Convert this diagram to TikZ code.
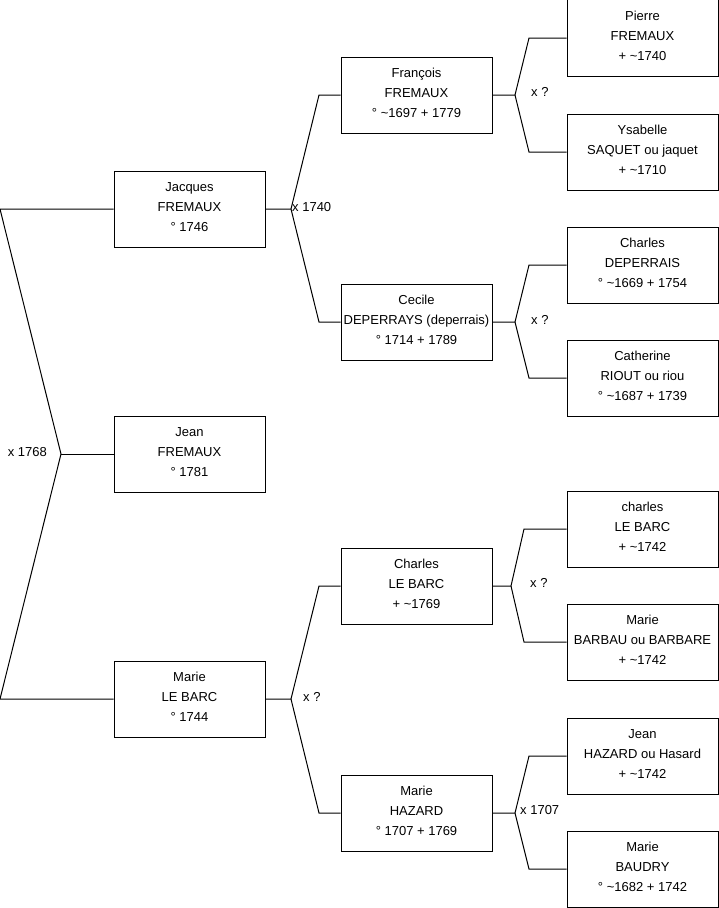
\documentclass[tikz,border=0pt]{standalone}
\usepackage{fontspec}
\setmainfont{Liberation Sans}
\newcommand{\ca}{\textasciitilde}

\begin{document}
\begin{tikzpicture}[x=1bp, y=-1bp,
    person/.style={draw, line width=1bp, minimum width=151bp, minimum height=76bp,
      inner sep=0pt, align=center, text depth=4bp, font=\fontsize{13bp}{20bp}\selectfont},
    link/.style={line width=1bp},
    union/.style={inner sep=0pt, font=\fontsize{13bp}{15bp}\selectfont}]
    \useasboundingbox (0,0) rectangle (719,908);

    % Children
    \node[person] (jacques) at (189.5,209) {Jacques\\FREMAUX\\° 1746};
    \node[person] (jean) at (189.5,454) {Jean\\FREMAUX\\° 1781};
    \node[person] (marie) at (189.5,699) {Marie\\LE BARC\\° 1744};

    % Parents
    \node[person] (francois) at (416.5,95) {François\\FREMAUX\\° \ca1697 + 1779};
    \node[person] (cecile) at (416.5,322) {Cecile\\DEPERRAYS (deperrais)\\° 1714 + 1789};
    \node[person] (charles) at (416.5,586) {Charles\\LE BARC\\+ \ca1769};
    \node[person] (mariehazard) at (416.5,813) {Marie\\HAZARD\\° 1707 + 1769};

    % Grandparents
    \node[person] (pierre) at (642.5,38) {Pierre\\FREMAUX\\+ \ca1740};
    \node[person] (ysabelle) at (642.5,152) {Ysabelle\\SAQUET ou jaquet\\+ \ca1710};
    \node[person] (charlesdep) at (642.5,265) {Charles\\DEPERRAIS\\° \ca1669 + 1754};
    \node[person] (catherine) at (642.5,378) {Catherine\\RIOUT ou riou\\° \ca1687 + 1739};
    \node[person] (charleslb) at (642.5,529) {charles\\LE BARC\\+ \ca1742};
    \node[person] (mariebarbau) at (642.5,642) {Marie\\BARBAU ou BARBARE\\+ \ca1742};
    \node[person] (jeanhazard) at (642.5,756) {Jean\\HAZARD ou Hasard\\+ \ca1742};
    \node[person] (mariebaudry) at (642.5,869) {Marie\\BAUDRY\\° \ca1682 + 1742};

    % Forks
    \coordinate (f0) at (61,454);
    \coordinate (f0a) at (0,209);
    \coordinate (f0b) at (0,699);
    \coordinate (f1) at (291,209);
    \coordinate (f1a) at (319,95);
    \coordinate (f1b) at (319,322);
    \coordinate (f2) at (291,699);
    \coordinate (f2a) at (319,586);
    \coordinate (f2b) at (319,813);
    \coordinate (f3) at (515,95);
    \coordinate (f3a) at (529,38);
    \coordinate (f3b) at (529,152);
    \coordinate (f4) at (515,322);
    \coordinate (f4a) at (529,265);
    \coordinate (f4b) at (529,378);
    \coordinate (f5) at (511,586);
    \coordinate (f5a) at (524,529);
    \coordinate (f5b) at (524,642);
    \coordinate (f6) at (515,813);
    \coordinate (f6a) at (529,756);
    \coordinate (f6b) at (529,869);

    % Links
    \draw[link] (jacques.west) -- (f0a) -- (f0) -- (f0b) -- (marie.west);
    \draw[link] (f0) -- (jean.west);
    \draw[link] (jacques.east) -- (f1) -- (f1a) -- (francois.west);
    \draw[link] (f1) -- (f1b) -- (cecile.west);
    \draw[link] (marie.east) -- (f2) -- (f2a) -- (charles.west);
    \draw[link] (f2) -- (f2b) -- (mariehazard.west);
    \draw[link] (francois.east) -- (f3) -- (f3a) -- (pierre.west);
    \draw[link] (f3) -- (f3b) -- (ysabelle.west);
    \draw[link] (cecile.east) -- (f4) -- (f4a) -- (charlesdep.west);
    \draw[link] (f4) -- (f4b) -- (catherine.west);
    \draw[link] (charles.east) -- (f5) -- (f5a) -- (charleslb.west);
    \draw[link] (f5) -- (f5b) -- (mariebarbau.west);
    \draw[link] (mariehazard.east) -- (f6) -- (f6a) -- (jeanhazard.west);
    \draw[link] (f6) -- (f6b) -- (mariebaudry.west);

    % Marriages
    \node[union, anchor=east] (m0) at (47,452) {x 1768};
    \node[union, anchor=west] (m1) at (292,207) {x 1740};
    \node[union, anchor=west] (m2) at (303,697) {x ?};
    \node[union, anchor=west] (m3) at (531,92) {x ?};
    \node[union, anchor=west] (m4) at (531,320) {x ?};
    \node[union, anchor=west] (m5) at (530,583) {x ?};
    \node[union, anchor=west] (m6) at (520,810) {x 1707};
\end{tikzpicture}
\end{document}
